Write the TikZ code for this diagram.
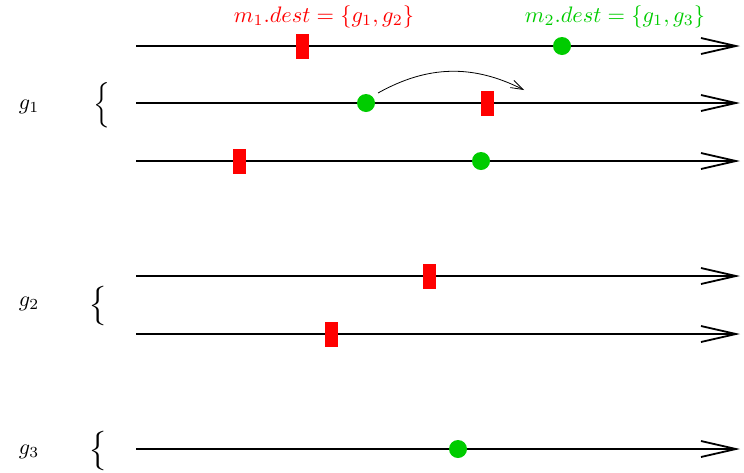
\documentclass[tikz,border=0pt]{standalone}
\usetikzlibrary{arrows.meta}
\definecolor{mred}{RGB}{255,0,0}
\definecolor{mgreen}{RGB}{0,204,0}
\begin{document}
\begin{tikzpicture}[x=0.5pt,y=-0.5pt,
  timeline/.style={line width=0.9pt,-{Straight Barb[length=17.5pt,width=8pt,line width=0.9pt]}},
  redmark/.style={fill=mred,draw=none,minimum width=6.5pt,minimum height=12.5pt,inner sep=0pt},
  greenmark/.style={fill=mgreen,draw=none,circle,minimum size=9pt,inner sep=0pt},
  glabel/.style={scale=1.1},
  brace/.style={inner sep=0pt,scale=1.1},
  destlabel/.style={scale=1.12}]
\useasboundingbox (0,0) rectangle (744,472);
% timelines
\foreach \i/\y in {1/46,2/103,3/161,4/276,5/334,6/449}{
  \coordinate (s\i) at (136,\y);
  \coordinate (e\i) at (740,\y);
  \draw[timeline] (s\i) -- (e\i);
}
% markers
\node[redmark] (r1) at (302,46) {};
\node[greenmark] (c1) at (562,46) {};
\node[greenmark] (c2) at (366,103) {};
\node[redmark] (r2) at (487,103) {};
\node[redmark] (r3) at (239,161) {};
\node[greenmark] (c3) at (481,161) {};
\node[redmark] (r4) at (429,276) {};
\node[redmark] (r5) at (331,334) {};
\node[greenmark] (c6) at (458,449) {};
% arc
\coordinate (as) at (378,93);
\coordinate (ae) at (524,90);
\draw[line width=0.4pt,-{Straight Barb[length=6pt,width=4pt]}] (as) to[bend left=28] (ae);
% labels
\node[destlabel,text=mred] (d1) at (324,17) {$m_1.dest=\{g_1,g_2\}$};
\node[destlabel,text=mgreen] (d2) at (615,17) {$m_2.dest=\{g_1,g_3\}$};
\node[glabel] (g1) at (29,107) {$g_1$};
\node[glabel] (g2) at (29,304) {$g_2$};
\node[glabel] (g3) at (29,452) {$g_3$};
\node[brace,scale=1.15] (b1) at (102,105) {$\Big\{$};
\node[brace,scale=1.5] (b2) at (98,306) {$\big\{$};
\node[brace,scale=1.5] (b3) at (98,451) {$\big\{$};
\end{tikzpicture}
\end{document}
